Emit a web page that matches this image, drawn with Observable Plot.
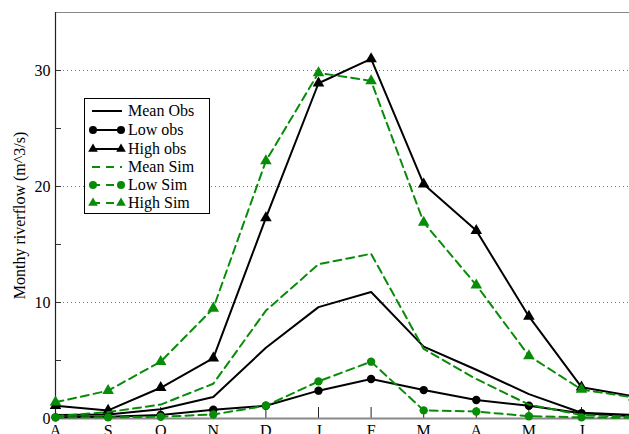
<!DOCTYPE html>
<html>
<head>
<meta charset="utf-8">
<script src="https://cdn.jsdelivr.net/npm/d3@7"></script>
<script src="https://cdn.jsdelivr.net/npm/@observablehq/plot@0.6"></script>
<style>
  html, body { margin: 0; padding: 0; background: white; }
  #wrap { position: relative; width: 629px; height: 434px; overflow: hidden; }
  #legend { position: absolute; left: 0; top: 0; }
</style>
</head>
<body>
<div id="wrap"></div>
<script>
const months  = ["A","S","O","N","D","J","F","M","A","M","J","J"];
const meanObs = [0.3, 0.35, 0.8, 1.85, 6.1, 9.6, 10.9, 6.2, 4.2, 2.1, 0.5, 0.3];
const lowObs  = [0.1, 0.15, 0.3, 0.75, 1.1, 2.4, 3.4, 2.45, 1.6, 1.1, 0.45, 0.2];
const highObs = [1.1, 0.7, 2.65, 5.2, 17.3, 28.9, 31.0, 20.2, 16.2, 8.8, 2.7, 1.9];
const meanSim = [0.2, 0.55, 1.2, 3.0, 9.3, 13.3, 14.2, 6.0, 3.4, 1.2, 0.3, 0.15];
const lowSim  = [0.1, 0.1, 0.15, 0.35, 1.1, 3.2, 4.9, 0.7, 0.6, 0.2, 0.1, 0.05];
const highSim = [1.4, 2.4, 4.9, 9.5, 22.2, 29.8, 29.1, 16.9, 11.5, 5.4, 2.5, 1.8];
const seriesNames = ["Mean Obs","Low obs","High obs","Mean Sim","Low Sim","High Sim"];
const yTicks = [0, 10, 20, 30];
const yMinor = [5, 15, 25];

const GREEN = "#088c08";
const rows = (vals) => vals.map((v, i) => ({i, v}));
const idx = months.map((_, i) => i);

const styles = [
  {vals: meanObs, stroke: "black", dash: null, symbol: null},
  {vals: lowObs,  stroke: "black", dash: null, symbol: "circle"},
  {vals: highObs, stroke: "black", dash: null, symbol: "triangle"},
  {vals: meanSim, stroke: GREEN, dash: "8,5", symbol: null},
  {vals: lowSim,  stroke: GREEN, dash: "8,5", symbol: "circle"},
  {vals: highSim, stroke: GREEN, dash: "8,5", symbol: "triangle"}
];

const tickX = (opts) => Plot.axisTickX ? Plot.axisTickX(opts) : Plot.axisX({...opts, tickFormat: () => ""});
const tickY = (opts) => Plot.axisTickY ? Plot.axisTickY(opts) : Plot.axisY({...opts, tickFormat: () => ""});

const marks = [
  Plot.ruleY([10, 20, 30], {stroke: "#777", strokeDasharray: "1,3", strokeWidth: 1}),
  Plot.frame({stroke: "#888", strokeWidth: 1}),
  Plot.axisY({ticks: yTicks, tickSize: 0, tickPadding: 5, label: "Monthy riverflow (m^3/s)",
              labelAnchor: "center", labelArrow: "none", labelOffset: 42}),
  tickY({ticks: yMinor.concat(yTicks.slice(1)), tickSize: -6, stroke: "#333", label: null}),
  tickX({ticks: idx, tickSize: -11, stroke: "#222", label: null}),
  Plot.axisX({ticks: idx, tickSize: 0, tickPadding: 6, tickFormat: i => months[i], label: null}),
  Plot.ruleY([0], {stroke: "#888", strokeWidth: 2}),
  Plot.ruleX([0], {stroke: "#222", strokeWidth: 1.2})
];
for (const s of styles) {
  marks.push(Plot.line(rows(s.vals), {x: "i", y: "v", stroke: s.stroke, strokeWidth: 2,
    strokeDasharray: s.dash || undefined}));
  if (s.symbol) {
    marks.push(Plot.dot(rows(s.vals), {x: "i", y: "v", fill: s.stroke, stroke: "none",
      symbol: s.symbol, r: s.symbol === "circle" ? 4.2 : 4.3}));
  }
}

const chart = Plot.plot({
  width: 629, height: 434,
  marginLeft: 55, marginTop: 12, marginBottom: 16, marginRight: 0,
  style: {fontFamily: "'Liberation Serif', 'DejaVu Serif', serif", fontSize: "16px", background: "white", color: "black"},
  x: {type: "linear", domain: [0, 11], range: [55, 633.6], axis: null},
  y: {domain: [0, 35], range: [418, 12], axis: null},
  marks
});
document.getElementById("wrap").appendChild(chart);

// Legend (inside plot area, top-left)
const lg = d3.select("#wrap").append("svg").attr("id", "legend")
  .attr("width", 629).attr("height", 434)
  .style("font-family", "'Liberation Serif', serif").style("font-size", "16px");
lg.append("rect").attr("x", 84.5).attr("y", 98.5).attr("width", 125).attr("height", 115)
  .attr("fill", "white").attr("stroke", "black").attr("stroke-width", 1);
const ys = [111, 130, 149, 167, 185, 203];
styles.forEach((s, k) => {
  const y = ys[k];
  lg.append("line").attr("x1", 92).attr("x2", 122).attr("y1", y).attr("y2", y)
    .attr("stroke", s.stroke).attr("stroke-width", 2)
    .attr("stroke-dasharray", s.dash ? "8,6" : null);
  if (s.symbol) {
    const sym = d3.symbol(s.symbol === "circle" ? d3.symbolCircle : d3.symbolTriangle,
                          s.symbol === "circle" ? Math.PI * 4 * 4 : 40);
    [93, 121].forEach(x => lg.append("path").attr("d", sym()).attr("transform", `translate(${x},${y})`).attr("fill", s.stroke));
  }
  lg.append("text").attr("x", 128).attr("y", y).attr("dy", "0.32em").text(seriesNames[k]);
});
</script>
</body>
</html>
